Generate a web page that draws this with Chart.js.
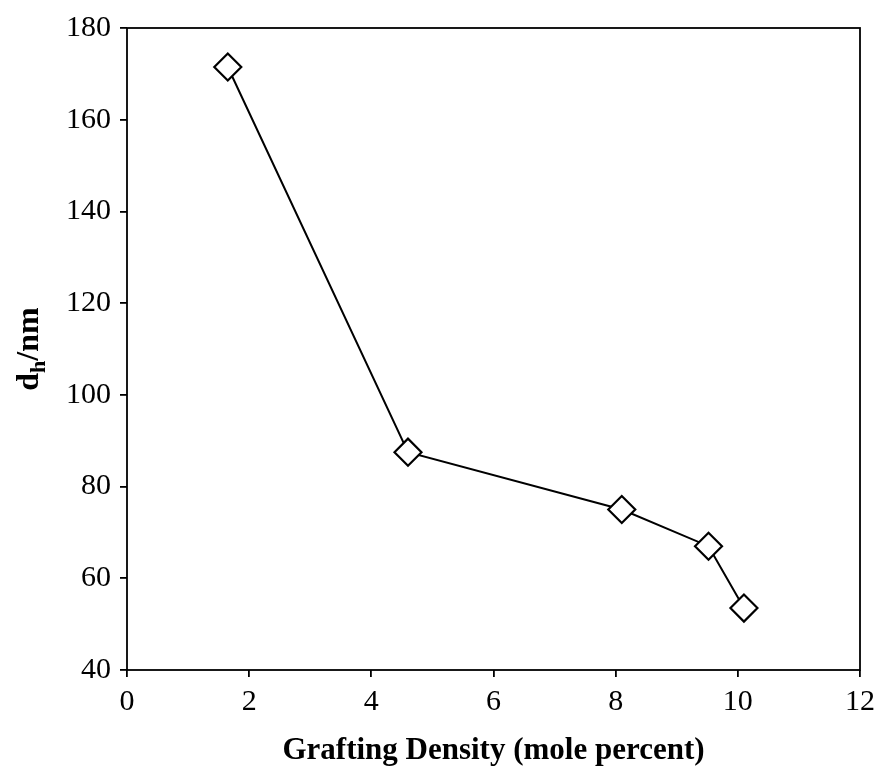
<!DOCTYPE html>
<html>
<head>
<meta charset="utf-8">
<script src="https://cdn.jsdelivr.net/npm/chart.js@4/dist/chart.umd.min.js"></script>
<style>
  html, body { margin: 0; padding: 0; background: #fff; }
  #wrap { width: 879px; height: 767px; position: relative; }
</style>
</head>
<body>
<div id="wrap"><canvas id="c" width="879" height="767"></canvas></div>
<script>
// Data
const graftingDensity = [1.65, 4.6, 8.1, 9.52, 10.1];
const hydroDiameter = [171.5, 87.5, 75, 67, 53.5];
const xTicks = [0, 2, 4, 6, 8, 10, 12];
const yTicks = [40, 60, 80, 100, 120, 140, 160, 180];
const xTitle = 'Grafting Density (mole percent)';
const yTitleMain = 'd';
const yTitleSub = 'h';
const yTitleRest = '/nm';

const SERIF = '"Liberation Serif", "DejaVu Serif", serif';

const frame = {
  id: 'frame',
  afterDatasetsDraw(chart) {
    const { ctx, chartArea: a } = chart;
    ctx.save();
    ctx.strokeStyle = '#000';
    ctx.lineWidth = 1.8;
    ctx.strokeRect(a.left, a.top, a.right - a.left, a.bottom - a.top);
    ctx.restore();
  }
};

const yTitlePlugin = {
  id: 'yTitle',
  afterDraw(chart) {
    const { ctx, chartArea: a } = chart;
    const main = 'bold 32px ' + SERIF;
    const sub = 'bold 22px ' + SERIF;
    ctx.save();
    ctx.font = main;
    const w1 = ctx.measureText(yTitleMain).width;
    const w3 = ctx.measureText(yTitleRest).width;
    ctx.font = sub;
    const w2 = ctx.measureText(yTitleSub).width;
    const total = w1 + w2 + w3;
    const cy = (a.top + a.bottom) / 2;
    ctx.translate(38, cy);
    ctx.rotate(-Math.PI / 2);
    ctx.fillStyle = '#000';
    ctx.textBaseline = 'alphabetic';
    ctx.textAlign = 'left';
    let x = -total / 2;
    ctx.font = main;
    ctx.fillText(yTitleMain, x, 0);
    x += w1;
    ctx.font = sub;
    ctx.fillText(yTitleSub, x, 7);
    x += w2;
    ctx.font = main;
    ctx.fillText(yTitleRest, x, 0);
    ctx.restore();
  }
};

new Chart(document.getElementById('c'), {
  type: 'scatter',
  data: {
    datasets: [{
      data: graftingDensity.map((x, i) => ({ x: x, y: hydroDiameter[i] })),
      showLine: true,
      borderColor: '#000',
      borderWidth: 2,
      pointStyle: 'rectRot',
      pointRadius: 13.5,
      pointBorderWidth: 2.2,
      pointBackgroundColor: '#fff',
      pointBorderColor: '#000',
      tension: 0
    }]
  },
  options: {
    responsive: false,
    animation: false,
    devicePixelRatio: 1,
    layout: { padding: { left: 0, top: 28, right: 19, bottom: 0 } },
    plugins: { legend: { display: false }, tooltip: { enabled: false } },
    scales: {
      x: {
        type: 'linear',
        min: 0, max: 12,
        afterBuildTicks(s) { s.ticks = xTicks.map(v => ({ value: v })); },
        afterFit(s) { s.height = 97; s.paddingRight = 0; s.paddingLeft = 0; },
        border: { display: false },
        grid: { display: true, drawOnChartArea: false, drawTicks: true, tickLength: 7, color: '#000', lineWidth: 1.8 },
        ticks: { color: '#000', font: { family: SERIF, size: 30 }, padding: 7 },
        title: { display: true, text: xTitle, color: '#000', font: { family: SERIF, size: 31, weight: 'bold' }, padding: { top: 0, bottom: -3 } }
      },
      y: {
        type: 'linear',
        min: 40, max: 180,
        afterBuildTicks(s) { s.ticks = yTicks.map(v => ({ value: v })); },
        afterFit(s) { s.width = 127; s.paddingTop = 0; s.paddingBottom = 0; },
        border: { display: false },
        grid: { display: true, drawOnChartArea: false, drawTicks: true, tickLength: 7, color: '#000', lineWidth: 1.8 },
        ticks: { color: '#000', font: { family: SERIF, size: 30 }, padding: 9 }
      }
    }
  },
  plugins: [frame, yTitlePlugin]
});
</script>
</body>
</html>
